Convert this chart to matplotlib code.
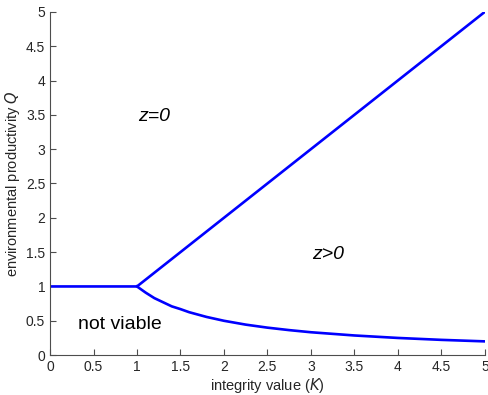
import matplotlib.pyplot as plt

plt.rcParams['font.family'] = ['Liberation Sans', 'DejaVu Sans']

# boundary of z=0 region (flat then linear)
upper_k = [0, 1, 5]
upper_q = [1, 1, 5]

# lower viability boundary
lower_k = [1.0, 1.1, 1.2, 1.3, 1.4, 1.5, 1.6, 1.8, 2.0, 2.25, 2.5, 2.75,
           3.0, 3.5, 4.0, 4.5, 5.0]
lower_q = [1.0, 0.91, 0.83, 0.77, 0.71, 0.67, 0.625, 0.556, 0.5, 0.444,
           0.4, 0.364, 0.333, 0.286, 0.25, 0.222, 0.2]

ticks = [0, 0.5, 1, 1.5, 2, 2.5, 3, 3.5, 4, 4.5, 5]
tick_labels = ['0', '0.5', '1', '1.5', '2', '2.5', '3', '3.5', '4', '4.5', '5']

fig = plt.figure(figsize=(4.88, 3.95), dpi=100)
ax = fig.add_axes([0.1025, 0.101, 0.891, 0.869])

ax.plot(upper_k, upper_q, color='#0000ff', linewidth=1.9)
ax.plot(lower_k, lower_q, color='#0000ff', linewidth=1.9)

ax.set_xlim(0, 5)
ax.set_ylim(0, 5)
ax.set_xticks(ticks)
ax.set_xticklabels(tick_labels)
ax.set_yticks(ticks)
ax.set_yticklabels(tick_labels)

for side in ['top', 'right']:
    ax.spines[side].set_visible(False)
for side in ['left', 'bottom']:
    ax.spines[side].set_color('#4d4d4d')
    ax.spines[side].set_linewidth(0.8)
ax.tick_params(direction='in', length=4, width=0.8, colors='#4d4d4d',
               labelcolor='#262626', labelsize=10)

ax.set_xlabel('integrity value ($K$)', fontsize=10.5, color='#262626', labelpad=1.5)
ax.set_ylabel('environmental productivity $Q$', fontsize=10.5, color='#262626', labelpad=3)

ax.text(1.2, 3.47, 'z=0', fontsize=14, style='italic', ha='center', va='center')
ax.text(3.2, 1.46, 'z>0', fontsize=14, style='italic', ha='center', va='center')
ax.text(0.8, 0.44, 'not viable', fontsize=14, ha='center', va='center')

fig.savefig('out.png', dpi=100)
